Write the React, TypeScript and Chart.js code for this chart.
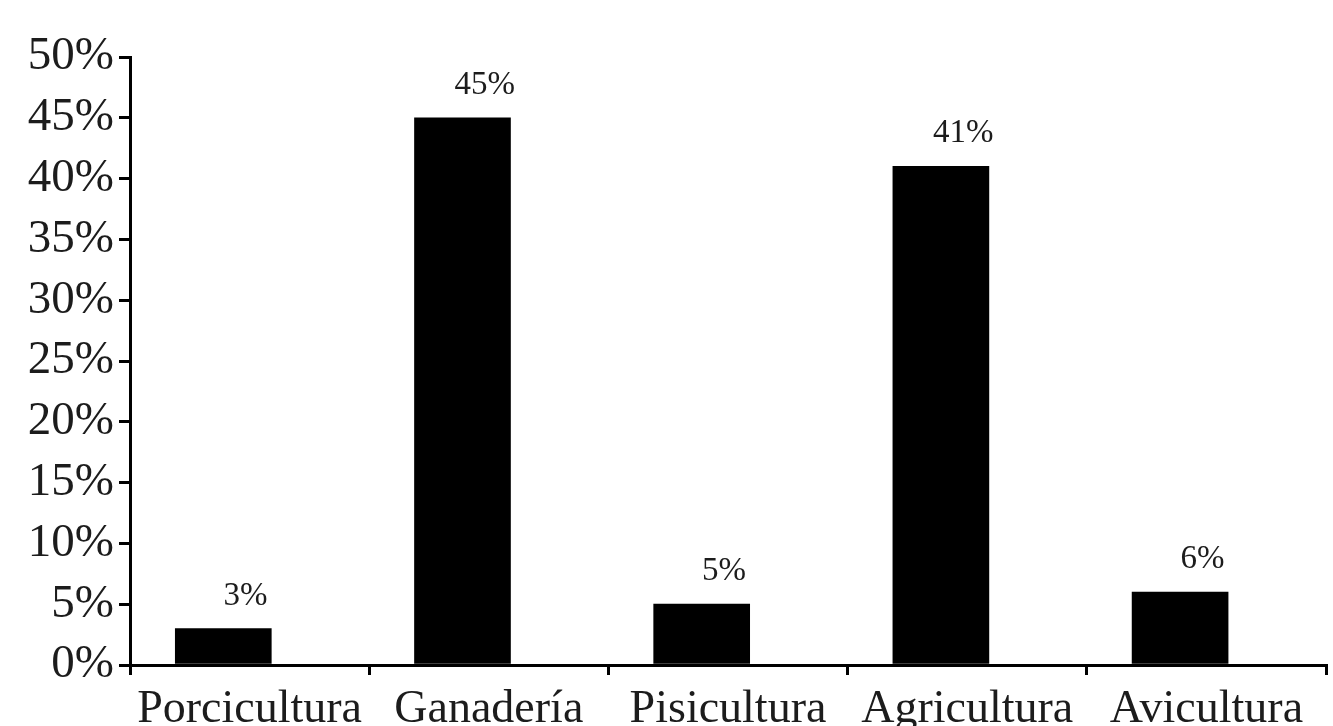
import React, { useEffect, useRef } from "react";
import { Chart, registerables } from "chart.js";

Chart.register(...registerables);

// Share of each productive activity (%)
const activities = ["Porcicultura", "Ganadería", "Pisicultura", "Agricultura", "Avicultura"];
const shares = [3, 45, 5, 41, 6];
const yTicks = [0, 5, 10, 15, 20, 25, 30, 35, 40, 45, 50];

const SERIF = "'Liberation Serif', 'Times New Roman', serif";
const INK = "#1c1c1c";

// Writes each bar's percentage above it, centred on its category.
const valueLabels = {
  id: "valueLabels",
  afterDatasetsDraw(chart: any) {
    const { ctx } = chart;
    const xs = chart.scales.x;
    const ys = chart.scales.y;
    ctx.save();
    ctx.font = `33px ${SERIF}`;
    ctx.fillStyle = INK;
    ctx.textAlign = "center";
    ctx.textBaseline = "alphabetic";
    shares.forEach((v, i) => {
      ctx.fillText(`${v}%`, xs.getPixelForValue(i) - 4, ys.getPixelForValue(v) - 24);
    });
    ctx.restore();
  },
};

export default function App() {
  const canvasRef = useRef<HTMLCanvasElement | null>(null);

  useEffect(() => {
    if (!canvasRef.current) return;
    const chart = new Chart(canvasRef.current, {
      type: "bar",
      data: {
        labels: activities,
        datasets: [
          {
            label: "Actividad",
            data: shares.map((v, i) => ({ x: i, y: v })),
            xAxisID: "xb",
            backgroundColor: "#000000",
            borderWidth: 0,
            barThickness: 96,
          },
        ],
      },
      options: {
        animation: false,
        responsive: false,
        maintainAspectRatio: false,
        layout: { padding: { top: 57, right: 7, left: 0, bottom: 0 } },
        plugins: {
          legend: { display: false },
          tooltip: { enabled: false },
        },
        scales: {
          x: {
            type: "category",
            position: "bottom",
            offset: true,
            border: { display: true, color: "#000", width: 3 },
            grid: {
              offset: true,
              drawOnChartArea: false,
              drawTicks: true,
              tickLength: 10,
              color: "#000",
              lineWidth: 3,
            },
            ticks: {
              color: INK,
              font: { family: SERIF, size: 46 },
              padding: 7,
              maxRotation: 0,
              autoSkip: false,
            },
            afterFit(scale: any) {
              scale.height = 61;
            },
          },
          xb: {
            type: "linear",
            axis: "x",
            display: false,
            offset: false,
            min: -0.39,
            max: 4.61,
          },
          y: {
            type: "linear",
            min: 0,
            max: 50,
            afterBuildTicks(scale: any) {
              scale.ticks = yTicks.map((value) => ({ value }));
            },
            border: { display: true, color: "#000", width: 3 },
            grid: {
              drawOnChartArea: false,
              drawTicks: true,
              tickLength: 11,
              color: "#000",
              lineWidth: 3,
            },
            ticks: {
              color: INK,
              font: { family: SERIF, size: 47 },
              padding: 5,
              callback: (v: any) => `${v}%`,
            },
            afterFit(scale: any) {
              scale.width = 130;
            },
          },
        },
      },
      plugins: [valueLabels],
    });
    return () => chart.destroy();
  }, []);

  return (
    <div style={{ position: "absolute", left: 0, top: 0, width: 1333, height: 726, background: "#fff" }}>
      <canvas ref={canvasRef} width={1333} height={726} />
    </div>
  );
}
